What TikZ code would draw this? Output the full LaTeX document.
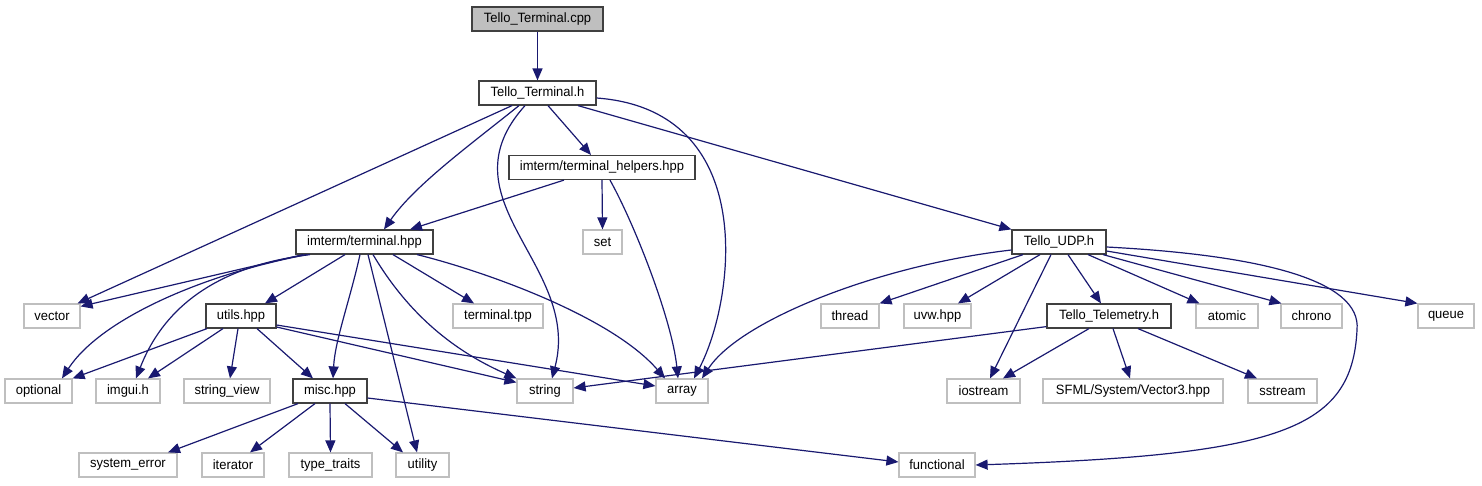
\documentclass[tikz,border=0pt]{standalone}
\usepackage{fontspec}
\setmainfont{Liberation Sans}[FakeStretch=0.96]
\usetikzlibrary{arrows.meta}
\definecolor{edgec}{HTML}{191970}
\definecolor{dk}{HTML}{404040}
\definecolor{lt}{HTML}{BFBFBF}
\begin{document}
\begin{tikzpicture}[x=1pt,y=-1pt,
  box/.style={draw=dk, line width=1.2pt, inner sep=0pt, minimum height=24pt, font=\fontsize{13.5}{15}\selectfont, text=black},
  sysbox/.style={box, draw=lt},
  rootbox/.style={box, fill=lt},
  edge/.style={draw=edgec, line width=1.2pt, -{Triangle[length=12pt,width=10pt]}}]
\fill[white] (0,0) rectangle (1482,485);
\useasboundingbox (0,0) rectangle (1482,485);
% nodes
\node[rootbox, minimum width=131pt] (cpp) at (537.5,19) {Tello\_Terminal.cpp};
\node[box, minimum width=117pt] (th) at (537.5,93) {Tello\_Terminal.h};
\node[box, minimum width=186pt] (helpers) at (602,167.5) {imterm/terminal\_helpers.hpp};
\node[box, minimum width=137pt] (term) at (364.5,242) {imterm/terminal.hpp};
\node[sysbox, minimum width=39pt] (set) at (602.5,242) {set};
\node[box, minimum width=94pt] (udp) at (1059,242) {Tello\_UDP.h};
% row 5
\node[sysbox, minimum width=56pt] (vector) at (52,316) {vector};
\node[box, minimum width=70pt] (utils) at (241,316) {utils.hpp};
\node[sysbox, minimum width=90pt] (tpp) at (498,316) {terminal.tpp};
\node[sysbox, minimum width=58pt] (thread) at (850,316) {thread};
\node[sysbox, minimum width=67pt] (uvw) at (937.5,316) {uvw.hpp};
\node[box, minimum width=124pt] (telem) at (1109,316) {Tello\_Telemetry.h};
\node[sysbox, minimum width=62pt] (atomic) at (1227,316) {atomic};
\node[sysbox, minimum width=61pt] (chrono) at (1311.5,316) {chrono};
\node[sysbox, minimum width=56pt] (queue) at (1446,316) {queue};
% row 6
\node[sysbox, minimum width=67pt] (optional) at (38.5,391) {optional};
\node[sysbox, minimum width=64pt] (imgui) at (128,391) {imgui.h};
\node[sysbox, minimum width=86pt] (sview) at (227,391) {string\_view};
\node[box, minimum width=74pt] (misc) at (330,391) {misc.hpp};
\node[sysbox, minimum width=56pt] (string) at (545,391) {string};
\node[sysbox, minimum width=52pt] (array) at (682,391) {array};
\node[sysbox, minimum width=73pt] (iostream) at (983.5,391) {iostream};
\node[sysbox, minimum width=180pt] (sfml) at (1133,391) {SFML/System/Vector3.hpp};
\node[sysbox, minimum width=69pt] (sstream) at (1282.5,391) {sstream};
% row 7
\node[sysbox, minimum width=98pt] (syserr) at (128,465) {system\_error};
\node[sysbox, minimum width=62pt] (iterator) at (233,465) {iterator};
\node[sysbox, minimum width=83pt] (ttraits) at (330.5,465) {type\_traits};
\node[sysbox, minimum width=53pt] (utility) at (422.5,465) {utility};
\node[sysbox, minimum width=76pt] (functional) at (937,465) {functional};
% edges from Tello_Terminal.cpp
\draw[edge] (cpp.south) -- (th.north);
% edges from Tello_Terminal.h
\draw[edge] ([xshift=-25.5pt]th.south) -- ([xshift=-3pt]vector.north east);
\draw[edge] ([xshift=-18.5pt]th.south) .. controls (470,145) and (415,185) .. ([xshift=19.5pt]term.north);
\draw[edge] ([xshift=-12.5pt]th.south) .. controls (440,200) and (582,265) .. ([xshift=7pt]string.north);
\draw[edge] ([xshift=10.5pt]th.south) -- ([xshift=-11pt]helpers.north);
\draw[edge] ([xshift=40.5pt]th.south) -- (udp.north west);
\draw[edge] ([yshift=-5pt]th.east) .. controls (760,110) and (735,300) .. ([xshift=12pt]array.north);
% edges from terminal_helpers
\draw[edge] ([xshift=-38pt]helpers.south) -- ([xshift=45.5pt]term.north);
\draw[edge] (helpers.south) -- (set.north);
\draw[edge] ([xshift=8pt]helpers.south) .. controls (635,225) and (672,320) .. ([xshift=-4pt]array.north);
% edges from terminal.hpp
\draw[edge] ([xshift=-61.5pt]term.south) -- ([yshift=-3pt]vector.north east);
\draw[edge] ([xshift=-57.5pt]term.south) .. controls (200,275) and (100,320) .. ([xshift=23.5pt]optional.north);
\draw[edge] ([xshift=-54.5pt]term.south) .. controls (200,268) and (158,322) .. ([xshift=8pt]imgui.north);
\draw[edge] ([xshift=-19.5pt]term.south) -- ([xshift=24pt]utils.north);
\draw[edge] ([xshift=-4.5pt]term.south) .. controls (350,300) and (335,340) .. ([xshift=3pt]misc.north);
\draw[edge] ([xshift=3.5pt]term.south) -- ([xshift=-5.5pt]utility.north);
\draw[edge] ([xshift=8.5pt]term.south) .. controls (400,300) and (440,345) .. (string.north west);
\draw[edge] ([xshift=28.5pt]term.south) -- ([xshift=-24pt]tpp.north);
\draw[edge] ([xshift=52.5pt]term.south) .. controls (480,270) and (610,315) .. ([xshift=-17pt]array.north);
% edges from utils.hpp
\draw[edge] ([xshift=-34pt]utils.south) -- (optional.north east);
\draw[edge] ([xshift=-18pt]utils.south) -- ([xshift=20pt]imgui.north);
\draw[edge] ([xshift=-3pt]utils.south) -- ([xshift=3pt]sview.north);
\draw[edge] ([xshift=16pt]utils.south) -- ([xshift=-17pt]misc.north);
\draw[edge] ([yshift=-11pt]utils.east) -- ([yshift=-4pt]string.north west);
\draw[edge] ([yshift=-9pt]utils.east) -- ([yshift=5pt]array.west);
% edges from misc.hpp
\draw[edge] ([xshift=-32pt]misc.south) -- ([xshift=40pt]syserr.north);
\draw[edge] ([xshift=-15pt]misc.south) -- ([xshift=17pt]iterator.north);
\draw[edge] (misc.south) -- (ttraits.north);
\draw[edge] ([xshift=15pt]misc.south) -- ([xshift=-19.5pt]utility.north);
\draw[edge] ([yshift=-7pt]misc.east) -- ([yshift=3pt]functional.west);
% edges from Tello_UDP.h
\draw[edge] ([yshift=-8pt]udp.west) .. controls (880,265) and (740,320) .. ([xshift=20pt]array.north);
\draw[edge] ([xshift=-36pt]udp.south) -- (thread.north east);
\draw[edge] ([xshift=-19pt]udp.south) -- ([xshift=20.5pt]uvw.north);
\draw[edge] ([xshift=-8pt]udp.south) -- ([xshift=6.5pt]iostream.north);
\draw[edge] ([xshift=9pt]udp.south) -- ([xshift=-8pt]telem.north);
\draw[edge] ([xshift=29pt]udp.south) -- ([xshift=4pt]atomic.north west);
\draw[edge] ([xshift=44pt]udp.south) -- ([xshift=1pt]chrono.north west);
\draw[edge] ([yshift=-9pt]udp.east) -- (queue.north west);
\draw[edge] ([yshift=-5pt]udp.east) .. controls (1260,255) and (1362,280) .. (1357,330) .. controls (1352,430) and (1280,455) .. (functional.east);
% edges from Tello_Telemetry.h
\draw[edge] ([yshift=2pt]telem.south west) -- ([yshift=3pt]string.east);
\draw[edge] ([xshift=-20pt]telem.south) -- ([xshift=19.5pt]iostream.north);
\draw[edge] ([xshift=4pt]telem.south) -- ([xshift=-3pt]sfml.north);
\draw[edge] ([xshift=29pt]telem.south) -- ([xshift=-25.5pt]sstream.north);
\end{tikzpicture}
\end{document}
